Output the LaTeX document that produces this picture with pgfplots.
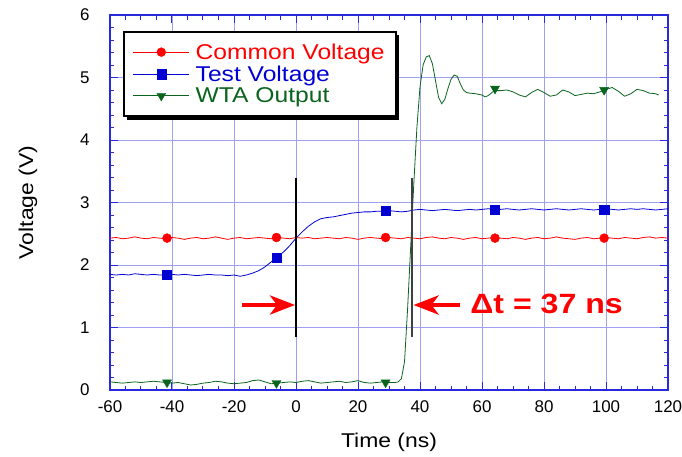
\documentclass[border=0pt]{standalone}
\usepackage{pgfplots}
\pgfplotsset{compat=1.18}
\usepackage{fontspec}
\setmainfont{Liberation Sans}
\newfontfamily\widefont[FakeStretch=1.15]{Liberation Sans}
\usetikzlibrary{arrows.meta,shadows}
\makeatletter
\tikzset{no preactions/.code={\let\tikz@preactions\pgfutil@empty}}
\makeatother
\definecolor{cred}{RGB}{255,0,0}
\definecolor{cblue}{RGB}{0,0,210}
\definecolor{cgreen}{RGB}{10,100,30}
\definecolor{gridc}{RGB}{160,160,240}
\definecolor{axc}{RGB}{40,40,220}
\begin{document}
\begin{tikzpicture}
\path[use as bounding box] (-110bp,-67bp) rectangle (572bp,390bp);
\begin{axis}[
  at={(0,0)}, anchor=south west,
  scale only axis, width=558bp, height=375bp,
  xmin=-60, xmax=120, ymin=0, ymax=6,
  xtick={-60,-40,...,120}, ytick={0,1,...,6},
  minor x tick num=3, minor y tick num=4,
  grid=major, major grid style={gridc, line width=0.9bp},
  axis line style={axc, line width=1.6bp},
  tick style={axc, line width=1bp},
  major tick length=8bp, minor tick length=4.5bp,
  tick align=inside,
  /pgf/number format/assume math mode=true,
  ticklabel style={font=\fontsize{17}{17}\selectfont},
  yticklabel style={xshift=-17bp},
  xticklabel style={yshift=-7bp},
  xlabel={Time (ns)}, ylabel={Voltage (V)},
  label style={font=\widefont\fontsize{20}{20}\selectfont},
  xlabel style={at={(axis description cs:0.5,-0.1387)}, anchor=center},
  ylabel style={at={(axis description cs:-0.147,0.5)}, anchor=center},
  legend style={at={(rel axis cs:0.0233,0.958)}, anchor=north west,
    draw=black, line width=1.8bp, fill=white,
    font=\widefont\fontsize{21.5}{21.5}\selectfont,
    drop shadow={shadow xshift=3.5bp, shadow yshift=-3.5bp, fill=black, opacity=1},
    inner xsep=9bp, inner ysep=10bp, row sep=1bp},
  legend cell align=left,
  legend image code/.code={\draw[no preactions,mark repeat=2,mark phase=2,#1] plot coordinates {(0bp,0bp) (28bp,0bp) (56bp,0bp)};},
]
\addlegendimage{cred, line width=0.8bp, mark=*, mark size=4.5bp, mark options={solid,line width=0.3bp}}
\addlegendentry{\hspace{4bp}\textcolor{cred}{Common Voltage}}
\addlegendimage{cblue, line width=0.8bp, mark=square*, mark size=4.6bp, mark options={solid,line width=0.3bp}}
\addlegendentry{\hspace{4bp}\textcolor{cblue}{Test Voltage}}
\addlegendimage{cgreen, line width=0.8bp, mark=triangle*, mark size=5.2bp, mark options={solid,rotate=180,line width=0.3bp}}
\addlegendentry{\hspace{4bp}\textcolor{cgreen}{WTA Output}}

% Common Voltage
\addplot[cred, line width=0.8bp, forget plot] coordinates {
(-60,2.43)(-58,2.44)(-56,2.42)(-54,2.43)(-52,2.45)(-50,2.43)(-48,2.42)(-46,2.44)(-44,2.43)(-42,2.42)
(-40,2.44)(-38,2.43)(-36,2.41)(-34,2.43)(-32,2.44)(-30,2.42)(-28,2.43)(-26,2.45)(-24,2.43)(-22,2.41)
(-20,2.43)(-18,2.44)(-16,2.42)(-14,2.43)(-12,2.44)(-10,2.43)(-8,2.42)(-6,2.44)(-4,2.43)(-2,2.42)
(0,2.44)(2,2.43)(4,2.44)(6,2.42)(8,2.43)(10,2.44)(12,2.43)(14,2.42)(16,2.44)(18,2.43)
(20,2.41)(22,2.43)(24,2.44)(26,2.43)(28,2.42)(30,2.44)(32,2.43)(34,2.42)(36,2.44)(38,2.43)
(40,2.42)(42,2.44)(44,2.45)(46,2.43)(48,2.42)(50,2.44)(52,2.43)(54,2.41)(56,2.43)(58,2.44)
(60,2.42)(62,2.43)(64,2.44)(66,2.43)(68,2.42)(70,2.44)(72,2.43)(74,2.41)(76,2.43)(78,2.44)
(80,2.42)(82,2.43)(84,2.45)(86,2.43)(88,2.42)(90,2.41)(92,2.43)(94,2.44)(96,2.42)(98,2.43)
(100,2.44)(102,2.43)(104,2.42)(106,2.44)(108,2.43)(110,2.42)(112,2.44)(114,2.45)(116,2.43)(118,2.44)(120,2.43)};
\addplot[cred, only marks, mark=*, mark size=4.5bp, forget plot] coordinates {
(-41.6,2.43)(-6.3,2.44)(28.9,2.44)(64.2,2.43)(99.4,2.43)};

% Test Voltage
\addplot[cblue, line width=0.8bp, forget plot] coordinates {
(-60,1.85)(-58,1.84)(-56,1.85)(-54,1.84)(-52,1.86)(-50,1.85)(-48,1.84)(-46,1.85)(-44,1.84)(-42,1.84)
(-40,1.85)(-38,1.84)(-36,1.85)(-34,1.84)(-32,1.83)(-30,1.84)(-28,1.85)(-26,1.84)(-24,1.84)(-22,1.83)
(-20,1.84)(-18,1.82)(-16,1.84)(-14,1.87)(-12,1.91)(-10,1.97)(-8,2.05)(-6,2.13)(-4,2.21)(-2,2.31)
(0,2.43)(2,2.53)(4,2.62)(6,2.69)(8,2.74)(10,2.76)(12,2.77)(14,2.79)(16,2.81)(18,2.83)
(20,2.84)(22,2.85)(24,2.85)(26,2.86)(28,2.86)(30,2.87)(32,2.86)(34,2.85)(36,2.86)(38,2.88)
(40,2.89)(42,2.88)(44,2.87)(46,2.88)(48,2.89)(50,2.88)(52,2.87)(54,2.88)(56,2.89)(58,2.88)
(60,2.89)(62,2.90)(64,2.89)(66,2.89)(68,2.90)(70,2.89)(72,2.88)(74,2.89)(76,2.90)(78,2.89)
(80,2.88)(82,2.89)(84,2.90)(86,2.89)(88,2.88)(90,2.89)(92,2.90)(94,2.89)(96,2.88)(98,2.89)
(100,2.90)(102,2.89)(104,2.88)(106,2.89)(108,2.90)(110,2.89)(112,2.90)(114,2.89)(116,2.88)(118,2.89)(120,2.90)};
\addplot[cblue, only marks, mark=square*, mark size=4.6bp, forget plot] coordinates {
(-41.6,1.84)(-6.3,2.12)(28.9,2.87)(64.2,2.89)(99.4,2.89)};

% WTA Output
\addplot[cgreen, line width=0.8bp, forget plot] coordinates {
(-60,0.13)(-58,0.12)(-56,0.11)(-54,0.12)(-52,0.13)(-50,0.12)(-48,0.13)(-46,0.14)(-44,0.13)(-42,0.12)
(-40,0.11)(-38,0.12)(-36,0.10)(-34,0.08)(-32,0.09)(-30,0.11)(-28,0.12)(-26,0.14)(-24,0.13)(-22,0.11)
(-20,0.10)(-18,0.11)(-16,0.12)(-14,0.15)(-12,0.16)(-10,0.13)(-8,0.10)(-6,0.11)(-4,0.12)(-2,0.13)
(0,0.12)(2,0.14)(4,0.15)(6,0.13)(8,0.11)(10,0.12)(12,0.13)(14,0.14)(16,0.12)(18,0.13)
(20,0.15)(22,0.12)(24,0.11)(26,0.12)(28,0.13)(30,0.12)(32,0.12)(33,0.13)(34,0.18)(35,0.45)
(36,1.3)(37,2.3)(38,3.3)(39,4.2)(40,4.85)(41,5.2)(42,5.33)(43,5.35)(44,5.22)(45,4.95)
(46,4.68)(47,4.58)(48,4.65)(49,4.82)(50,4.97)(51,5.04)(52,5.02)(53,4.9)(54,4.8)(55,4.76)
(56,4.75)(58,4.74)(60,4.72)(61,4.69)(62,4.71)(64,4.79)(66,4.79)(68,4.80)(70,4.77)(72,4.72)
(74,4.69)(76,4.76)(78,4.81)(80,4.76)(82,4.70)(84,4.72)(86,4.80)(88,4.77)(90,4.71)(92,4.73)
(94,4.75)(96,4.74)(98,4.77)(100,4.81)(102,4.84)(104,4.78)(106,4.70)(108,4.74)(110,4.81)(112,4.79)
(114,4.75)(116,4.74)(117,4.72)};
\addplot[cgreen, only marks, mark=triangle*, mark size=5.2bp, mark options={rotate=180}, forget plot] coordinates {
(-41.6,0.12)(-6.3,0.11)(28.9,0.12)(64.2,4.82)(99.4,4.80)};

% annotations
\draw[black, line width=1.3bp] (axis cs:0,0.85) -- (axis cs:0,3.39);
\draw[black!75, line width=2bp] (axis cs:37.4,0.85) -- (axis cs:37.4,3.39);
\draw[cred, line width=4.5bp, -{Stealth[length=25bp,width=19bp,inset=7bp]}] (axis cs:-17.5,1.36) -- (axis cs:-0.3,1.36);
\draw[cred, line width=4.5bp, -{Stealth[length=25bp,width=19bp,inset=7bp]}] (axis cs:53,1.36) -- (axis cs:37.9,1.36);
\node[cred, inner sep=0pt, anchor=west, font=\widefont\bfseries\fontsize{28}{28}\selectfont] at (axis cs:56.2,1.38) {Δt = 37 ns};
\end{axis}
\end{tikzpicture}
\end{document}
